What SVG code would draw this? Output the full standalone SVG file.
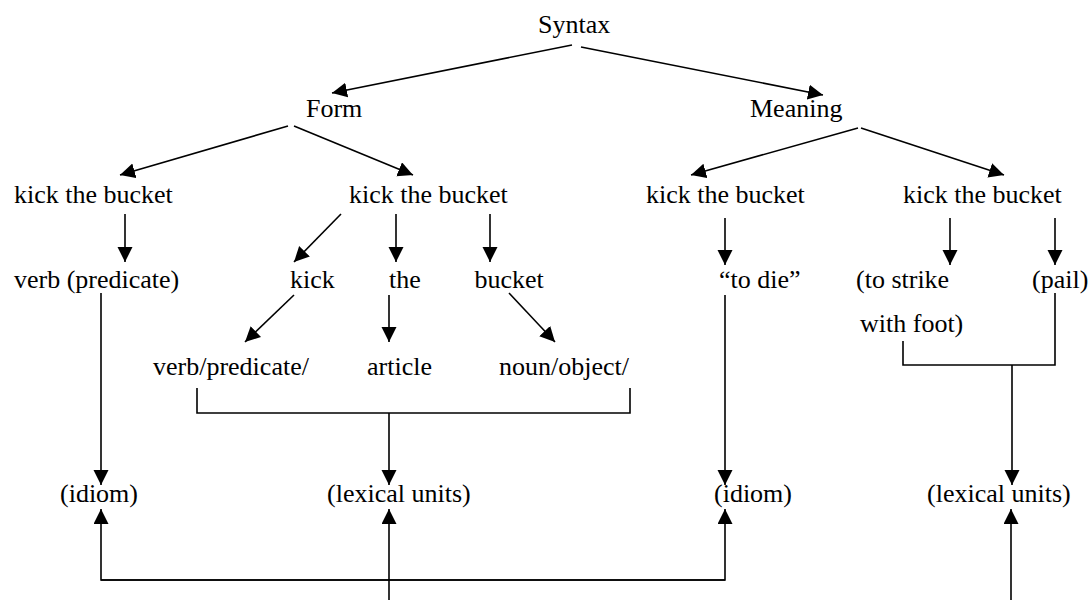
<svg xmlns="http://www.w3.org/2000/svg" width="1090" height="600" viewBox="0 0 1090 600">
<style>
text{font-family:"Liberation Serif","Times New Roman",serif;font-size:26px;fill:#000}
.c path{fill:none;stroke:#000;stroke-width:1.6}
.a{marker-end:url(#ah)}
</style>
<defs>
<marker id="ah" markerUnits="userSpaceOnUse" markerWidth="16" markerHeight="16" refX="15" refY="7.5" orient="auto">
<path d="M0,0 L15,7.5 L0,15 z" fill="#000"/>
</marker>
</defs>
<rect width="1090" height="600" fill="#fff"/>
<g id="n-syntax"><text x="538" y="33">Syntax</text></g>
<g id="n-form"><text x="306" y="117">Form</text></g>
<g id="n-meaning"><text x="750" y="117">Meaning</text></g>
<g id="n-kb1"><text x="14" y="203">kick the bucket</text></g>
<g id="n-kb2"><text x="349" y="203">kick the bucket</text></g>
<g id="n-kb3"><text x="646" y="203">kick the bucket</text></g>
<g id="n-kb4"><text x="903" y="203">kick the bucket</text></g>
<g id="n-verbpred"><text x="14" y="288">verb (predicate)</text></g>
<g id="n-kick"><text x="290" y="288">kick</text></g>
<g id="n-the"><text x="389" y="288">the</text></g>
<g id="n-bucket"><text x="474.5" y="288">bucket</text></g>
<g id="n-todie"><text x="719" y="288">“to die”</text></g>
<g id="n-tostrike"><text x="856" y="288">(to strike</text><text x="860" y="332">with foot)</text></g>
<g id="n-pail"><text x="1032" y="288">(pail)</text></g>
<g id="n-verbpred2"><text x="153" y="375">verb/predicate/</text></g>
<g id="n-article"><text x="367" y="375">article</text></g>
<g id="n-noun"><text x="499" y="375">noun/object/</text></g>
<g id="n-idiom1"><text x="60" y="502">(idiom)</text></g>
<g id="n-lex1"><text x="327" y="502">(lexical units)</text></g>
<g id="n-idiom2"><text x="714" y="502">(idiom)</text></g>
<g id="n-lex2"><text x="927" y="502">(lexical units)</text></g>
<g id="connectors" class="c">
<path class="a" d="M572,45 L332,93"/>
<path class="a" d="M581,47 L823,95"/>
<path class="a" d="M288,126 L120,175"/>
<path class="a" d="M294,126 L413,175"/>
<path class="a" d="M858,128 L691,175"/>
<path class="a" d="M861,128 L1004,175"/>
<path class="a" d="M125,214 L125,262"/>
<path class="a" d="M341,214 L294,262"/>
<path class="a" d="M396,214 L396,262"/>
<path class="a" d="M490,214 L490,262"/>
<path class="a" d="M725,218 L725,265"/>
<path class="a" d="M950,218 L950,265"/>
<path class="a" d="M1055,218 L1055,265"/>
<path class="a" d="M101,293 L101,485"/>
<path class="a" d="M294,295 L245,342"/>
<path class="a" d="M389,295 L389,342"/>
<path class="a" d="M509,293 L555,342"/>
<path d="M197,388 L197,413 L630,413 L630,388"/>
<path class="a" d="M389,413 L389,485"/>
<path class="a" d="M725,295 L725,485"/>
<path d="M903,341 L903,365 L1055,365 L1055,293"/>
<path class="a" d="M1012,365 L1012,485"/>
<path class="a" d="M725,580 L101,580 L101,509"/>
<path class="a" d="M101,580 L725,580 L725,509"/>
<path class="a" d="M389,600 L389,509"/>
<path class="a" d="M1011,600 L1011,509"/>
</g>
</svg>
